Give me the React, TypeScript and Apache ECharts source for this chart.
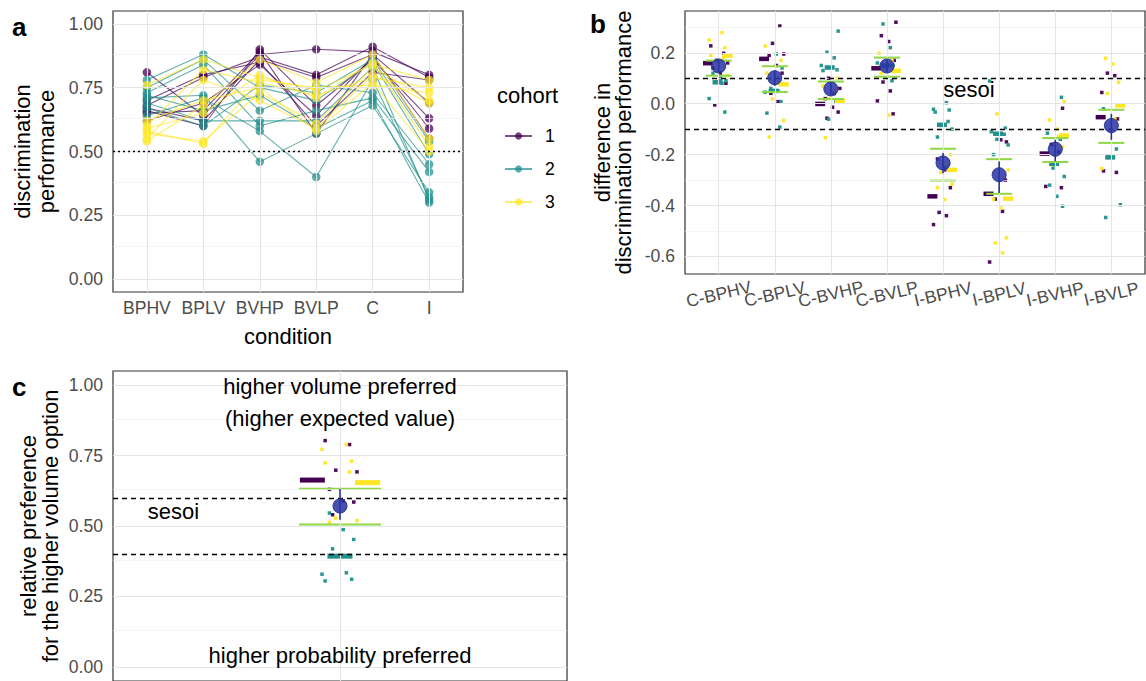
import React, { useEffect, useRef } from 'react';
import * as echarts from 'echarts';

const FONT = '"Liberation Sans", Arial, Helvetica, sans-serif';

// ---------- panel a ----------
const condA = ['BPHV', 'BPLV', 'BVHP', 'BVLP', 'C', 'I'];
const cohorts = ['1', '2', '3'];
const cohortColors = ['#440154', '#21908C', '#FDE725'];
const yTicksA = [0, 0.25, 0.5, 0.75, 1];
const yMinorA = [0.125, 0.375, 0.625, 0.875];

const subjCohort1 = [
  [0.81, 0.64, 0.88, 0.90, 0.89, 0.80],
  [0.68, 0.79, 0.87, 0.80, 0.91, 0.79],
  [0.67, 0.62, 0.86, 0.79, 0.88, 0.69],
  [0.66, 0.60, 0.90, 0.68, 0.86, 0.63],
  [0.62, 0.69, 0.84, 0.64, 0.87, 0.59],
  [0.70, 0.80, 0.85, 0.60, 0.81, 0.78],
  [0.65, 0.66, 0.89, 0.57, 0.88, 0.55],
];
const subjCohort2 = [
  [0.78, 0.88, 0.75, 0.70, 0.85, 0.49],
  [0.75, 0.86, 0.66, 0.76, 0.73, 0.45],
  [0.73, 0.84, 0.60, 0.66, 0.71, 0.42],
  [0.71, 0.72, 0.46, 0.57, 0.68, 0.34],
  [0.64, 0.71, 0.58, 0.40, 0.78, 0.32],
  [0.69, 0.62, 0.62, 0.62, 0.83, 0.31],
  [0.72, 0.66, 0.72, 0.59, 0.70, 0.30],
  [0.67, 0.60, 0.76, 0.73, 0.86, 0.54],
];
const subjCohort3 = [
  [0.76, 0.86, 0.79, 0.74, 0.84, 0.78],
  [0.60, 0.82, 0.77, 0.72, 0.79, 0.75],
  [0.58, 0.53, 0.78, 0.75, 0.76, 0.73],
  [0.57, 0.54, 0.73, 0.61, 0.83, 0.70],
  [0.55, 0.78, 0.70, 0.59, 0.80, 0.69],
  [0.59, 0.65, 0.80, 0.71, 0.85, 0.52],
  [0.62, 0.70, 0.75, 0.58, 0.77, 0.50],
  [0.54, 0.68, 0.86, 0.77, 0.88, 0.55],
];

// ---------- panel b ----------
const bCats = ['C-BPHV', 'C-BPLV', 'C-BVHP', 'C-BVLP', 'I-BPHV', 'I-BPLV', 'I-BVHP', 'I-BVLP'];
const yTicksB = [-0.6, -0.4, -0.2, 0, 0.2];
const yMinorB = [-0.5, -0.3, -0.1, 0.1, 0.3];
const bMean = [0.148, 0.102, 0.058, 0.148, -0.233, -0.279, -0.179, -0.086];
const bCiLow = [0.125, 0.07, 0.035, 0.125, -0.273, -0.351, -0.227, -0.142];
const bCiHigh = [0.172, 0.13, 0.082, 0.172, -0.194, -0.227, -0.142, -0.04];
const bGreenHigh = [0.169, 0.147, 0.087, 0.181, -0.177, -0.218, -0.135, -0.024];
const bGreenLow = [0.110, 0.046, 0.018, 0.106, -0.302, -0.354, -0.229, -0.154];
const bCohortMean1 = [0.159, 0.176, -0.001, 0.139, -0.364, -0.354, -0.196, -0.053];
const bCohortMean2 = [0.084, 0.05, 0.142, 0.15, -0.083, -0.118, -0.236, -0.211];
const bCohortMean3 = [0.189, 0.076, 0.011, 0.129, -0.26, -0.373, -0.125, -0.007];
const bPts1 = [
  [0.227, 0.198, 0.17, 0.16, 0.14, 0.12, 0.08, -0.005],
  [0.305, 0.237, 0.195, 0.19, 0.15, 0.12, 0.041, 0.008],
  [0.1, 0.06, 0.02, -0.014, -0.033, -0.057, 0.04],
  [0.32, 0.267, 0.244, 0.17, 0.085, 0.05, 0.011, -0.04],
  [-0.217, -0.26, -0.33, -0.427, -0.44, -0.475],
  [-0.142, -0.15, -0.375, -0.423, -0.622, -0.3],
  [-0.018, -0.16, -0.19, -0.325, -0.33],
  [0.12, 0.11, 0.044, -0.06, -0.264, -0.27],
];
const bPts2 = [
  [0.12, 0.10, 0.09, 0.085, 0.08, 0.02, -0.033],
  [0.195, 0.14, 0.06, 0.05, 0.045, 0.008, -0.037, -0.092],
  [0.285, 0.202, 0.18, 0.15, 0.133, 0.13, 0.008, -0.061],
  [0.313, 0.22, 0.16, 0.15, 0.14, 0.09],
  [0.004, -0.022, -0.025, -0.033, -0.07, -0.085, -0.1, -0.131, -0.25],
  [0.089, -0.096, -0.11, -0.12, -0.14, -0.162, -0.2],
  [0.025, -0.116, -0.14, -0.253, -0.286, -0.32, -0.364, -0.403],
  [-0.02, -0.178, -0.21, -0.397, -0.447],
];
const bPts3 = [
  [0.279, 0.25, 0.22, 0.19, 0.18, 0.13, 0.11],
  [0.227, 0.17, 0.12, 0.08, 0.019, -0.066, -0.131],
  [0.1, 0.07, 0.05, 0.02, 0.01, -0.133],
  [0.198, 0.17, 0.14, 0.13, 0.12, -0.045],
  [-0.24, -0.27, -0.316, -0.33, -0.377, -0.2],
  [-0.04, -0.26, -0.375, -0.41, -0.527, -0.547, -0.586],
  [0.008, -0.064, -0.1, -0.17, -0.24, -0.13],
  [0.178, 0.156, 0.084, 0.04, -0.06, -0.255],
];

// ---------- panel c ----------
const yTicksC = [0, 0.25, 0.5, 0.75, 1];
const yMinorC = [0.125, 0.375, 0.625, 0.875];
const cMean = 0.571;
const cCi = [0.522, 0.631];
const cGreen = [0.505, 0.632];
const cCohortMeans = [0.663, 0.393, 0.654];
const cPts1 = [0.803, 0.789, 0.698, 0.692, 0.63, 0.589, 0.585, 0.54];
const cPts2 = [0.546, 0.487, 0.452, 0.419, 0.334, 0.329, 0.311, 0.305];
const cPts3 = [0.789, 0.772, 0.73, 0.724, 0.692, 0.528, 0.519, 0.513];

// deterministic jitter pattern (horizontal spread of points)
const jit = [-0.14, 0.09, -0.04, 0.16, -0.1, 0.03, 0.13, -0.07, 0.06, -0.17, 0.11];
const dodge = [-0.19, -0.02, 0.16];
const dodgeC = [-0.073, 0, 0.073];

const B_MIN = -0.669;
const B_MAX = 0.364;

const MAJOR = { color: '#e5e5e5', width: 1.1, type: 'solid' as const };
const MINOR = { color: '#f1f1f1', width: 0.7, type: 'solid' as const };
const MEAN_FILL = 'rgba(40,50,165,0.85)';
const MEAN_EDGE = '#26358f';
const GREEN = '#8fd744';
const TICK_LABEL = { color: '#4d4d4d', fontSize: 17.6, fontFamily: FONT };

function gridLines(idx: number, xMajor: number[], yMajor: number[], yMinor: number[]) {
  return {
    type: 'scatter', xAxisIndex: idx, yAxisIndex: idx, data: [], silent: true, z: 1,
    markLine: {
      silent: true, symbol: ['none', 'none'], label: { show: false }, animation: false,
      data: [
        ...yMinor.map((v) => ({ yAxis: v, lineStyle: MINOR })),
        ...yMajor.map((v) => ({ yAxis: v, lineStyle: MAJOR })),
        ...xMajor.map((v) => ({ xAxis: v, lineStyle: MAJOR })),
      ],
    },
  };
}

function refLines(idx: number, vals: number[], type: any) {
  return {
    type: 'scatter', xAxisIndex: idx, yAxisIndex: idx, data: [], silent: true, z: 2,
    markLine: {
      silent: true, symbol: ['none', 'none'], label: { show: false }, animation: false,
      data: vals.map((v) => ({ yAxis: v })),
      lineStyle: { color: '#000', width: 1.3, type },
    },
  };
}

function textSeries(idx: number, items: { x: number; y: number; t: string }[]) {
  return {
    type: 'scatter', xAxisIndex: idx, yAxisIndex: idx, symbolSize: 0, silent: true, z: 6,
    itemStyle: { opacity: 1 },
    data: items.map((d) => ({ value: [d.x, d.y], name: d.t })),
    label: {
      show: true, position: 'inside', formatter: (p: any) => p.name,
      fontSize: 22, color: '#000', fontFamily: FONT,
    },
  };
}

const ciSeries = (idx: number, data: number[][]) => ({
  type: 'custom', xAxisIndex: idx, yAxisIndex: idx, z: 5, silent: true, data,
  renderItem: (params: any, api: any) => {
    const p1 = api.coord([api.value(0), api.value(1)]);
    const p2 = api.coord([api.value(0), api.value(2)]);
    return {
      type: 'line',
      shape: { x1: p1[0], y1: p1[1], x2: p2[0], y2: p2[1] },
      style: { stroke: MEAN_EDGE, lineWidth: 1.6 },
    };
  },
});

const baseGraphics = [
  { type: 'text', left: 497, top: 84, style: { text: 'cohort', fontSize: 22, fill: '#000', fontFamily: FONT } },
  { type: 'text', left: 12, top: 14, style: { text: 'a', fontSize: 26, fontWeight: 'bold', fill: '#000', fontFamily: FONT } },
  { type: 'text', left: 590, top: 11, style: { text: 'b', fontSize: 26, fontWeight: 'bold', fill: '#000', fontFamily: FONT } },
  { type: 'text', left: 12, top: 374, style: { text: 'c', fontSize: 26, fontWeight: 'bold', fill: '#000', fontFamily: FONT } },
];

function buildOption() {
  const series: any[] = [];
  const nameStyle = { color: '#000', fontSize: 22, lineHeight: 24, fontFamily: FONT };

  // ---- panel a
  series.push(gridLines(0, [0, 1, 2, 3, 4, 5], yTicksA, yMinorA));
  series.push(refLines(0, [0.5], [2, 3]));
  [subjCohort1, subjCohort2, subjCohort3].forEach((group, c) => {
    group.forEach((vals) => {
      series.push({
        type: 'line', name: cohorts[c], xAxisIndex: 0, yAxisIndex: 0,
        data: vals.map((v, j) => [j, v]),
        symbol: 'circle', symbolSize: 8.5, z: 3,
        lineStyle: { width: 1.1, color: cohortColors[c], opacity: 0.7 },
        itemStyle: { color: cohortColors[c], opacity: 0.75 },
        emphasis: { disabled: true },
      });
    });
  });

  // ---- panel b
  series.push(gridLines(1, [0, 1, 2, 3, 4, 5, 6, 7], yTicksB, yMinorB));
  series.push(refLines(1, [0.1, -0.1], [5, 4]));
  [bPts1, bPts2, bPts3].forEach((cats, c) => {
    const data: number[][] = [];
    cats.forEach((arr, ci) => arr.forEach((v, k) => data.push([ci + jit[(k + c * 4 + ci) % jit.length], v])));
    series.push({
      type: 'scatter', xAxisIndex: 1, yAxisIndex: 1, data, symbol: 'rect', symbolSize: 3.5, z: 3,
      itemStyle: { color: cohortColors[c], opacity: 0.95 }, silent: true,
    });
  });
  [bCohortMean1, bCohortMean2, bCohortMean3].forEach((arr, c) => {
    series.push({
      type: 'scatter', xAxisIndex: 1, yAxisIndex: 1, symbol: 'rect', symbolSize: [10, 4.5], z: 4,
      data: arr.map((v, i) => [i + dodge[c], v]), itemStyle: { color: cohortColors[c], opacity: 1 }, silent: true,
    });
  });
  series.push({
    type: 'scatter', xAxisIndex: 1, yAxisIndex: 1, symbol: 'rect', symbolSize: [26, 2], z: 4, silent: true,
    data: [...bGreenLow.map((v, i) => [i, v]), ...bGreenHigh.map((v, i) => [i, v])],
    itemStyle: { color: GREEN, opacity: 1 },
  });
  series.push(ciSeries(1, bMean.map((_, i) => [i, bCiLow[i], bCiHigh[i]])));
  series.push({
    type: 'scatter', xAxisIndex: 1, yAxisIndex: 1, symbol: 'circle', symbolSize: 14, z: 5, silent: true,
    data: bMean.map((v, i) => [i, v]),
    itemStyle: { color: MEAN_FILL, borderColor: MEAN_EDGE, borderWidth: 1, opacity: 1 },
  });
  series.push(textSeries(1, [{ x: 4.46, y: 0.054, t: 'sesoi' }]));

  // ---- panel c
  series.push(gridLines(2, [0], yTicksC, yMinorC));
  series.push(refLines(2, [0.6, 0.4], [5, 4]));
  [cPts1, cPts2, cPts3].forEach((arr, c) => {
    series.push({
      type: 'scatter', xAxisIndex: 2, yAxisIndex: 2, symbol: 'rect', symbolSize: 3.5, z: 3, silent: true,
      data: arr.map((v, k) => [jit[(k + c * 4) % jit.length] * 0.28, v]),
      itemStyle: { color: cohortColors[c], opacity: 0.95 },
    });
  });
  series.push({
    type: 'scatter', xAxisIndex: 2, yAxisIndex: 2, symbol: 'rect', symbolSize: [25, 5], z: 4, silent: true,
    data: cCohortMeans.map((v, c) => ({ value: [dodgeC[c], v], itemStyle: { color: cohortColors[c], opacity: 1 } })),
  });
  series.push({
    type: 'scatter', xAxisIndex: 2, yAxisIndex: 2, symbol: 'rect', symbolSize: [82, 2], z: 4, silent: true,
    data: cGreen.map((v) => [0, v]), itemStyle: { color: GREEN, opacity: 1 },
  });
  series.push(ciSeries(2, [[0, cCi[0], cCi[1]]]));
  series.push({
    type: 'scatter', xAxisIndex: 2, yAxisIndex: 2, symbol: 'circle', symbolSize: 14, z: 5, silent: true,
    data: [[0, cMean]],
    itemStyle: { color: MEAN_FILL, borderColor: MEAN_EDGE, borderWidth: 1, opacity: 1 },
  });
  series.push(textSeries(2, [
    { x: 0, y: 0.995, t: 'higher volume preferred' },
    { x: 0, y: 0.882, t: '(higher expected value)' },
    { x: 0, y: 0.04, t: 'higher probability preferred' },
    { x: -0.44, y: 0.55, t: 'sesoi' },
  ]));

  const gridBase = { show: true, borderColor: '#333', borderWidth: 1.2, backgroundColor: '#fff', containLabel: false };
  const tick = (vals: number[]) => ({ show: true, customValues: vals, length: 4, lineStyle: { color: '#333', width: 1 } });
  const allLabels = { interval: 0, hideOverlap: false, showMinLabel: true, showMaxLabel: true };

  return {
    animation: false,
    backgroundColor: '#fff',
    textStyle: { fontFamily: FONT },
    grid: [
      { ...gridBase, left: 113, top: 11, width: 350, height: 281 },
      { ...gridBase, left: 685, top: 11, width: 460, height: 263 },
      { ...gridBase, left: 113, top: 371, width: 454, height: 312 },
    ],
    xAxis: [
      {
        gridIndex: 0, type: 'value', min: -0.6, max: 5.6,
        axisLine: { show: false }, splitLine: { show: false },
        axisTick: tick([0, 1, 2, 3, 4, 5]),
        axisLabel: { ...TICK_LABEL, ...allLabels, customValues: [0, 1, 2, 3, 4, 5], formatter: (v: number) => condA[Math.round(v)], margin: 7 },
        name: 'condition', nameLocation: 'middle', nameGap: 32, nameTextStyle: nameStyle,
      },
      {
        gridIndex: 1, type: 'value', min: -0.6, max: 7.6,
        axisLine: { show: false }, splitLine: { show: false },
        axisTick: tick([0, 1, 2, 3, 4, 5, 6, 7]),
        axisLabel: { show: false },
      },
      {
        gridIndex: 2, type: 'value', min: -0.6, max: 0.6,
        axisLine: { show: false }, splitLine: { show: false }, axisTick: { show: false }, axisLabel: { show: false },
      },
    ],
    yAxis: [
      {
        gridIndex: 0, type: 'value', min: -0.05, max: 1.05,
        axisLine: { show: false }, splitLine: { show: false },
        axisTick: tick(yTicksA),
        axisLabel: { ...TICK_LABEL, ...allLabels, customValues: yTicksA, formatter: (v: number) => v.toFixed(2), margin: 10 },
        name: 'discrimination\nperformance', nameLocation: 'middle', nameGap: 55, nameTextStyle: nameStyle,
      },
      {
        gridIndex: 1, type: 'value', min: B_MIN, max: B_MAX,
        axisLine: { show: false }, splitLine: { show: false },
        axisTick: tick(yTicksB),
        axisLabel: { ...TICK_LABEL, ...allLabels, customValues: yTicksB, formatter: (v: number) => v.toFixed(1), margin: 10 },
        name: 'difference in\ndiscrimination performance', nameLocation: 'middle', nameGap: 51,
        nameTextStyle: { ...nameStyle, lineHeight: 21 },
      },
      {
        gridIndex: 2, type: 'value', min: -0.05, max: 1.05,
        axisLine: { show: false }, splitLine: { show: false },
        axisTick: tick(yTicksC),
        axisLabel: { ...TICK_LABEL, ...allLabels, customValues: yTicksC, formatter: (v: number) => v.toFixed(2), margin: 10 },
        name: 'relative preference\nfor the higher volume option', nameLocation: 'middle', nameGap: 52,
        nameTextStyle: { ...nameStyle, lineHeight: 22 },
      },
    ],
    legend: {
      data: cohorts,
      orient: 'vertical',
      left: 499,
      top: 122,
      itemWidth: 27,
      itemHeight: 9,
      itemGap: 15,
      selectedMode: false,
      textStyle: { color: '#000', fontSize: 17.6, fontFamily: FONT, padding: [0, 0, 0, 8] },
    },
    graphic: baseGraphics,
    series,
  };
}

export default function App() {
  const ref = useRef<HTMLDivElement>(null);
  useEffect(() => {
    document.body.style.margin = '0';
    if (!ref.current) return;
    const chart = echarts.init(ref.current, undefined, { renderer: 'svg' });
    chart.setOption(buildOption() as any);
    // rotated category labels of panel b, placed through the panel's own axes
    const rot = (13 * Math.PI) / 180;
    const labels = bCats.map((name, i) => {
      const p = chart.convertToPixel({ gridIndex: 1 } as any, [i, B_MIN]) as number[];
      return {
        type: 'text', x: p[0], y: p[1] + 20, rotation: rot, silent: true,
        style: { text: name, align: 'center', verticalAlign: 'middle', fill: TICK_LABEL.color, fontSize: TICK_LABEL.fontSize, fontFamily: FONT },
      };
    });
    chart.setOption({ graphic: [...baseGraphics, ...labels] } as any);
    return () => chart.dispose();
  }, []);
  return <div ref={ref} style={{ width: 1146, height: 681, position: 'absolute', left: 0, top: 0 }} />;
}
